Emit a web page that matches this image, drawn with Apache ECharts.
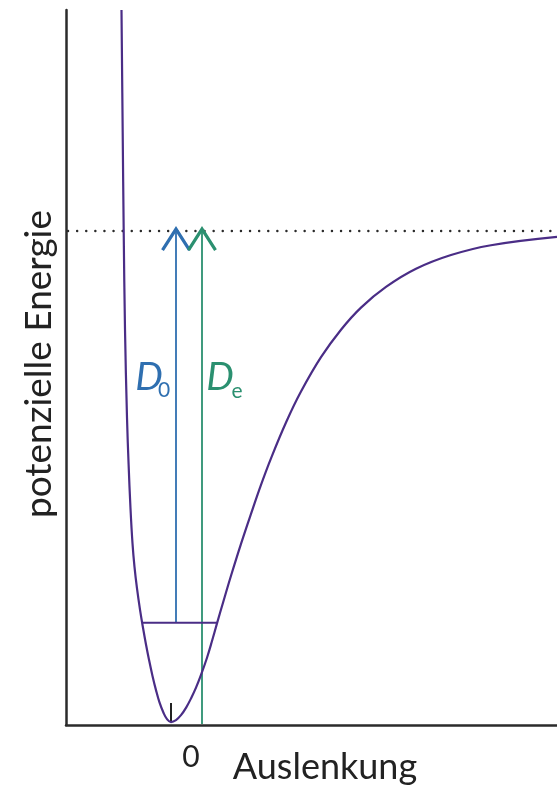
<!DOCTYPE html>
<html>
<head>
<meta charset="utf-8">
<script src="https://cdn.jsdelivr.net/npm/echarts@6/dist/echarts.min.js"></script>
<style>
html,body{margin:0;padding:0;background:#fff;}
#chart{width:557px;height:795px;}
</style>
</head>
<body>
<div id="chart"></div>
<script>
// Potential curve (x: displacement, E: energy with De = 100)
const curveX = [-0.495,-0.483,-0.473,-0.46,-0.44,-0.424,-0.405,-0.385,-0.365,-0.34,-0.31,-0.28,-0.25,-0.22,-0.185,-0.15,-0.115,-0.075,-0.04,0,
  0.05,0.10,0.15,0.20,0.25,0.30,0.36,0.41,0.46,0.52,0.60,0.70,0.80,0.90,1.00,1.15,1.30,1.50,1.70,1.90,2.15,2.45,2.80,3.20,3.86];
const curveE = [145.0,120.0,100.0,80.0,62.0,52.5,43.5,36.4,31.6,27.2,22.9,19.2,15.8,12.7,9.4,6.5,4.0,1.9,0.6,0,
  0.4,1.4,2.9,4.8,7.0,9.6,13.1,16.5,20.1,24.3,29.8,36.3,42.4,48.3,53.7,61.0,67.3,74.3,79.9,84.4,88.6,92.3,95.1,97.1,98.8];
// Dissociation limit
const dissocE = 100;
// Zero-point vibrational level
const levelE = 20.2;
const levelX = [-0.285, 0.46];
// Arrows
const d0X = 0.05;      // D0 arrow position
const d0From = 20.2;
const deX = 0.31;      // De arrow position
const deFrom = -0.4;
const arrowTop = 100.4;
const headHalfW = 0.135;
const headDrop = 4.3;
// marker at minimum
const minTick = [[0, 0], [0, 3.9]];
// axis ranges
const xRange = [-1.05, 3.86];
const eRange = [-0.6, 145];

const curveColor = '#4a2d86';
const blue = '#2f6fb0';
const green = '#2b9070';
const axisColor = '#2b2b2b';

function chevron(x) {
  return [[x - headHalfW, arrowTop - headDrop], [x, arrowTop], [x + headHalfW, arrowTop - headDrop]];
}

const chart = echarts.init(document.getElementById('chart'), null, {renderer: 'canvas'});
const font = 'Lato, "Open Sans", sans-serif';

chart.setOption({
  animation: false,
  backgroundColor: '#fff',
  grid: {left: 66, right: 0, top: 10, bottom: 70, containLabel: false},
  xAxis: {
    type: 'value', min: xRange[0], max: xRange[1],
    axisLine: {show: true, onZero: false, lineStyle: {color: axisColor, width: 2.5}},
    axisTick: {show: false}, axisLabel: {show: false}, splitLine: {show: false}
  },
  yAxis: {
    type: 'value', min: eRange[0], max: eRange[1],
    axisLine: {show: true, onZero: false, lineStyle: {color: axisColor, width: 2.5}},
    axisTick: {show: false}, axisLabel: {show: false}, splitLine: {show: false}
  },
  series: [
    {
      type: 'line', name: 'limit', symbol: 'none', silent: true,
      data: [[xRange[0] + 0.02, dissocE], [xRange[1], dissocE]],
      lineStyle: {color: axisColor, width: 2.4, type: [0.1, 9], cap: 'round'}
    },
    {
      type: 'line', name: 'D0', symbol: 'none',
      data: [[d0X, d0From], [d0X, arrowTop - 0.3]],
      lineStyle: {color: blue, width: 1.8}
    },
    {
      type: 'line', name: 'D0head', symbol: 'none',
      data: chevron(d0X),
      lineStyle: {color: blue, width: 3.2, join: 'miter'}
    },
    {
      type: 'line', name: 'De', symbol: 'none',
      data: [[deX, deFrom], [deX, arrowTop - 0.3]],
      lineStyle: {color: green, width: 1.8}
    },
    {
      type: 'line', name: 'Dehead', symbol: 'none',
      data: chevron(deX),
      lineStyle: {color: green, width: 3.2, join: 'miter'}
    },
    {
      type: 'line', name: 'level', symbol: 'none',
      data: [[levelX[0], levelE], [levelX[1], levelE]],
      lineStyle: {color: curveColor, width: 2}
    },
    {
      type: 'line', name: 'minTick', symbol: 'none',
      data: minTick,
      lineStyle: {color: '#222', width: 2}
    },
    {
      type: 'line', name: 'potential', symbol: 'none', smooth: 0.4,
      data: curveX.map((x, i) => [x, curveE[i]]),
      lineStyle: {color: curveColor, width: 2.2}
    }
  ],
  graphic: [
    {type: 'text', x: 191, y: 757,
      style: {text: '0', font: '30px ' + font, fill: '#222', align: 'center', verticalAlign: 'middle'}},
    {type: 'text', x: 325, y: 767,
      style: {text: 'Auslenkung', font: '36px ' + font, fill: '#222', align: 'center', verticalAlign: 'middle'}},
    {type: 'text', x: 39, y: 364, rotation: Math.PI / 2,
      style: {text: 'potenzielle Energie', font: '37px ' + font, fill: '#222', align: 'center', verticalAlign: 'middle'}},
    {type: 'text', x: 149, y: 377,
      style: {text: 'D', font: 'italic 39px ' + font, fill: blue, align: 'center', verticalAlign: 'middle'}},
    {type: 'text', x: 164, y: 390,
      style: {text: '0', font: '21px ' + font, fill: blue, align: 'center', verticalAlign: 'middle'}},
    {type: 'text', x: 220, y: 377,
      style: {text: 'D', font: 'italic 39px ' + font, fill: green, align: 'center', verticalAlign: 'middle'}},
    {type: 'text', x: 237, y: 391,
      style: {text: 'e', font: '21px ' + font, fill: green, align: 'center', verticalAlign: 'middle'}}
  ]
});
</script>
</body>
</html>
